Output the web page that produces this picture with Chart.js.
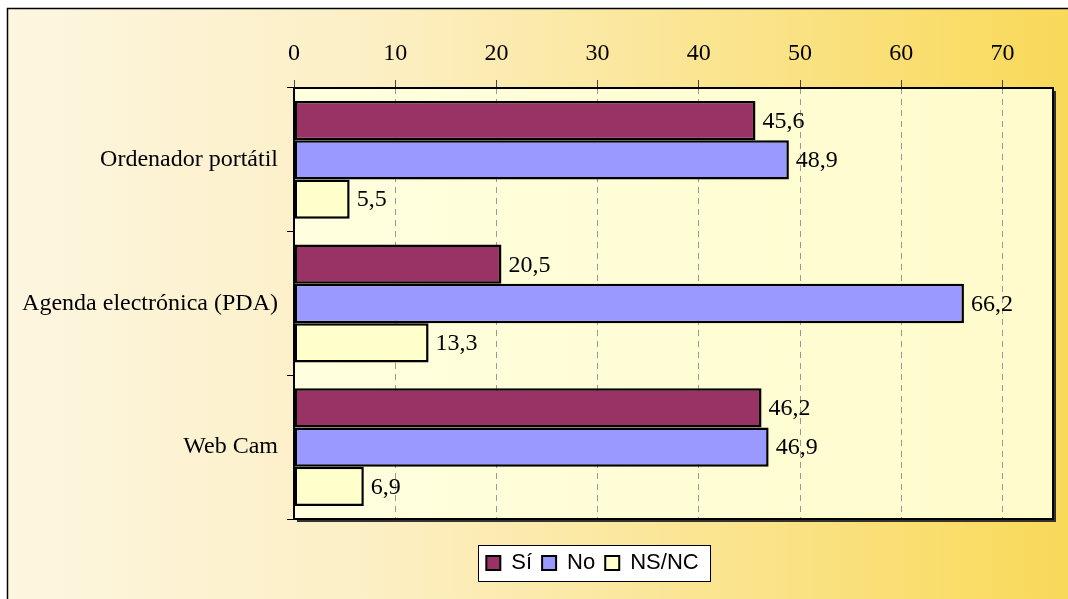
<!DOCTYPE html>
<html>
<head>
<meta charset="utf-8">
<script src="https://cdn.jsdelivr.net/npm/chart.js@4"></script>
<style>
  html, body { margin: 0; padding: 0; background: #fff; }
  canvas { display: block; }
</style>
</head>
<body>
<canvas id="chart" width="1068" height="599"></canvas>
<script>
const categories = ['Ordenador portátil', 'Agenda electrónica (PDA)', 'Web Cam'];
const seriesNames = ['Sí', 'No', 'NS/NC'];
const siValues = [45.6, 20.5, 46.2];
const noValues = [48.9, 66.2, 46.9];
const nsncValues = [5.5, 13.3, 6.9];
const seriesColors = ['#993366', '#9999FF', '#FFFFCC'];

const SERIF = '"Liberation Serif", "Times New Roman", serif';
const SANS = '"Liberation Sans", Arial, sans-serif';

// background, plot fill, frame, legend box and value labels
const decorPlugin = {
    id: 'decor',
    afterLayout(chart) {
        // legend sits a bit right of the canvas centre
        chart.legend.left += 66;
        chart.legend.right += 66;
    },
    beforeDraw(chart) {
        const ctx = chart.ctx;
        const area = chart.chartArea;
        ctx.save();
        ctx.fillStyle = '#ffffff';
        ctx.fillRect(0, 0, chart.width, chart.height);

        let bg = ctx.createLinearGradient(7, 0, chart.width, 0);
        bg.addColorStop(0, '#FDF6E0');
        bg.addColorStop(0.35, '#FCEFC4');
        bg.addColorStop(1, '#F9D959');
        ctx.fillStyle = bg;
        ctx.fillRect(7, 8, chart.width, chart.height);
        ctx.strokeStyle = '#000';
        ctx.lineWidth = 1.5;
        ctx.beginPath();
        ctx.moveTo(7.5, chart.height + 5);
        ctx.lineTo(7.5, 8.5);
        ctx.lineTo(chart.width + 5, 8.5);
        ctx.stroke();

        let pf = ctx.createLinearGradient(area.left, 0, area.right, 0);
        pf.addColorStop(0, '#FFFFDF');
        pf.addColorStop(1, '#FFFBCB');
        ctx.fillStyle = pf;
        ctx.fillRect(area.left, area.top, area.right - area.left, area.bottom - area.top);

        // legend frame
        const boxes = chart.legend.legendHitBoxes;
        if (boxes && boxes.length) {
            const first = boxes[0];
            const last = boxes[boxes.length - 1];
            const x0 = first.left - 8;
            const x1 = last.left + last.width + 12;
            const cy = first.top + first.height / 2;
            ctx.fillStyle = '#ffffff';
            ctx.fillRect(x0, cy - 18, x1 - x0, 36);
            ctx.strokeStyle = '#000';
            ctx.lineWidth = 1;
            ctx.strokeRect(Math.round(x0) + 0.5, Math.round(cy - 18) + 0.5, Math.round(x1 - x0), 36);
        }
        ctx.restore();
    },
    beforeDatasetsDraw(chart) {
        const ctx = chart.ctx;
        const a = chart.chartArea;
        ctx.save();
        ctx.strokeStyle = '#333';
        ctx.lineWidth = 2;
        ctx.beginPath();
        ctx.moveTo(a.right + 2, a.top + 3);
        ctx.lineTo(a.right + 2, a.bottom + 2);
        ctx.lineTo(a.left + 3, a.bottom + 2);
        ctx.stroke();
        ctx.strokeStyle = '#000';
        ctx.strokeRect(a.left, a.top, a.right - a.left, a.bottom - a.top);
        ctx.restore();
    },
    afterDatasetsDraw(chart) {
        const ctx = chart.ctx;
        ctx.save();
        ctx.font = '24px ' + SERIF;
        ctx.fillStyle = '#000';
        ctx.textAlign = 'left';
        ctx.textBaseline = 'middle';
        chart.data.datasets.forEach((ds, i) => {
            chart.getDatasetMeta(i).data.forEach((bar, j) => {
                const txt = String(ds.data[j]).replace('.', ',');
                ctx.fillText(txt, bar.x + 7, bar.y + 1);
            });
        });
        ctx.restore();
    }
};

new Chart(document.getElementById('chart'), {
    type: 'bar',
    data: {
        labels: categories,
        datasets: [
            { label: seriesNames[0], data: siValues, backgroundColor: seriesColors[0] },
            { label: seriesNames[1], data: noValues, backgroundColor: seriesColors[1] },
            { label: seriesNames[2], data: nsncValues, backgroundColor: seriesColors[2] }
        ]
    },
    options: {
        indexAxis: 'y',
        responsive: false,
        animation: false,
        devicePixelRatio: 1,
        datasets: {
            bar: {
                borderColor: '#000',
                borderWidth: 2.5,
                borderSkipped: false,
                categoryPercentage: 0.82,
                barPercentage: 1.0
            }
        },
        layout: { padding: { left: 0, right: 15, top: 0, bottom: 15 } },
        plugins: {
            tooltip: { enabled: false },
            legend: {
                position: 'bottom',
                title: { display: true, text: '', font: { size: 10 }, padding: { top: 11, bottom: 0 } },
                labels: {
                    font: { family: SANS, size: 22 },
                    color: '#000',
                    boxWidth: 14,
                    boxHeight: 14,
                    padding: 10,
                    generateLabels(chart) {
                        return chart.data.datasets.map((ds, i) => ({
                            text: ds.label,
                            fillStyle: ds.backgroundColor,
                            strokeStyle: '#000',
                            fontColor: '#000',
                            lineWidth: 2,
                            hidden: false,
                            datasetIndex: i
                        }));
                    }
                }
            }
        },
        scales: {
            x: {
                position: 'top',
                min: 0,
                max: 75,
                ticks: {
                    stepSize: 10,
                    includeBounds: false,
                    color: '#000',
                    font: { family: SERIF, size: 24 },
                    padding: 12
                },
                grid: {
                    color: '#999',
                    lineWidth: 1,
                    tickLength: 8,
                    tickColor: '#444',
                    tickBorderDash: []
                },
                border: { display: false, dash: [6, 5] },
                afterFit(scale) { scale.height = 88; }
            },
            y: {
                ticks: {
                    color: '#000',
                    font: { family: SERIF, size: 24 },
                    padding: 9
                },
                grid: {
                    offset: true,
                    drawOnChartArea: false,
                    tickLength: 7,
                    color: '#000'
                },
                border: { display: false },
                afterFit(scale) { scale.width = 294; }
            }
        }
    },
    plugins: [decorPlugin]
});
</script>
</body>
</html>
